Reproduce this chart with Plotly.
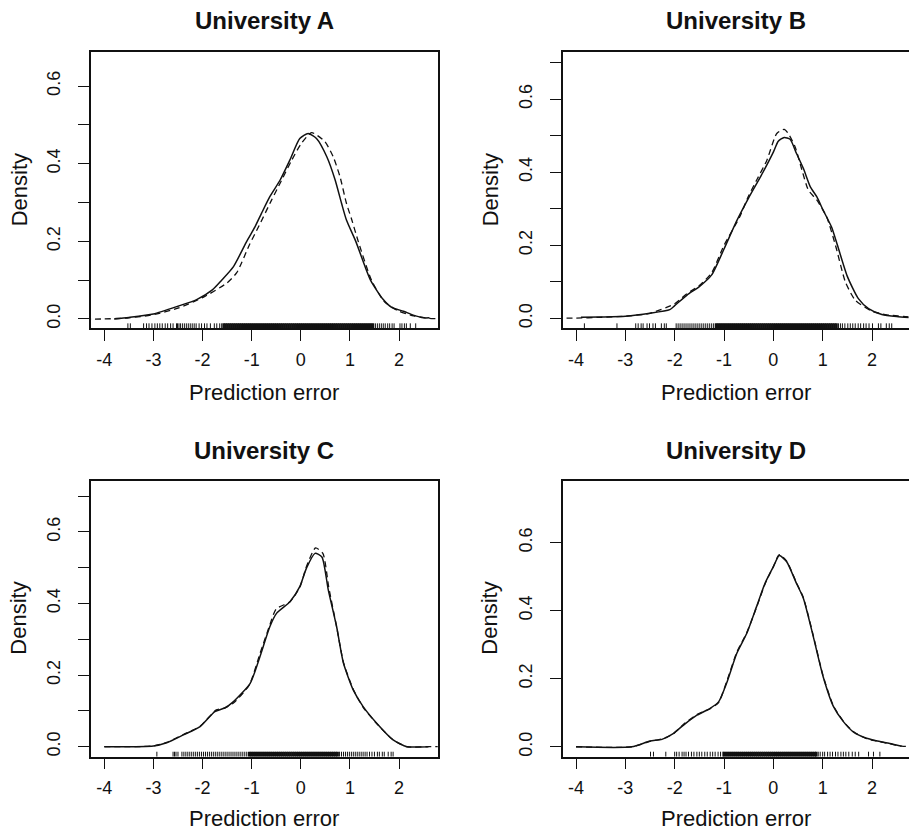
import plotly.graph_objects as go

# ---------------- data ----------------
titles = ["University A", "University B", "University C", "University D"]
x_tick_vals = [-4, -3, -2, -1, 0, 1, 2]
x_tick_text = ["-4", "-3", "-2", "-1", "0", "1", "2"]

y_ticks_A = [0.0, 0.1, 0.2, 0.3, 0.4, 0.5, 0.6]
y_text_A = ["0.0", "", "0.2", "", "0.4", "", "0.6"]
y_ticks_B = [0.0, 0.1, 0.2, 0.3, 0.4, 0.5, 0.6, 0.7]
y_text_B = ["0.0", "", "0.2", "", "0.4", "", "0.6", ""]
y_ticks_C = [0.0, 0.1, 0.2, 0.3, 0.4, 0.5, 0.6, 0.7]
y_text_C = ["0.0", "", "0.2", "", "0.4", "", "0.6", ""]
y_ticks_D = [0.0, 0.2, 0.4, 0.6]
y_text_D = ["0.0", "0.2", "0.4", "0.6"]

# University A
solid_x_A = [-3.8, -3.5, -3.0, -2.5, -2.12, -1.8, -1.61, -1.37, -1.1, -0.93, -0.8, -0.63, -0.42, -0.22,
             -0.02, 0.15, 0.32, 0.53, 0.7, 0.83, 0.93, 1.12, 1.42, 1.68, 1.85, 2.09, 2.29, 2.5, 2.62]
solid_y_A = [0.0, 0.004, 0.013, 0.033, 0.05, 0.075, 0.1, 0.135, 0.2, 0.238, 0.272, 0.315, 0.358, 0.41,
             0.465, 0.478, 0.465, 0.418, 0.358, 0.298, 0.255, 0.2, 0.1, 0.05, 0.03, 0.02, 0.01, 0.003, 0.003]
dash_x_A = [-4.6, -4.0, -3.5, -3.0, -2.5, -2.0, -1.5, -1.3, -1.05, -0.85, -0.6, -0.4, -0.18, 0.0, 0.22,
            0.49, 0.66, 0.80, 0.93, 1.04, 1.17, 1.44, 1.7, 2.0, 2.3, 2.6, 3.0]
dash_y_A = [0.0, 0.0, 0.003, 0.011, 0.028, 0.055, 0.093, 0.12, 0.19, 0.24, 0.305, 0.355, 0.41, 0.45, 0.48,
            0.457, 0.418, 0.366, 0.298, 0.255, 0.2, 0.1, 0.045, 0.02, 0.008, 0.002, 0.0]
rug_sparse_A = [-3.52, -3.47, -3.20, -3.14, -3.09, -3.03, -2.97, -2.92, -2.87, -2.82, -2.76, -2.71, -2.65,
                -2.60, -2.53, -2.51, -2.48, -2.45, -2.41, -2.37, -2.33, -2.29, -2.25, -2.21, -2.17, -2.13,
                -2.07, -2.02, -1.96, -1.91, -1.84, -1.76, -1.71, -1.65, -1.61,
                1.52, 1.56, 1.60, 1.64, 1.68, 1.72, 1.77, 1.81, 1.86, 1.90, 2.02, 2.06, 2.11, 2.15, 2.23, 2.34]
rug_dense_A = [-1.57, -1.53, -1.49, -1.45, -1.41, -1.37, -1.33, -1.29, -1.25, -1.21, -1.17, -1.13, -1.09,
               -1.05, -1.01, -0.97, -0.93, -0.89, -0.85, -0.81, -0.77, -0.73, -0.69, -0.65, -0.61, -0.57,
               -0.53, -0.49, -0.45, -0.41, -0.37, -0.33, -0.29, -0.25, -0.21, -0.17, -0.13, -0.09, -0.05,
               -0.01, 0.03, 0.07, 0.11, 0.15, 0.19, 0.23, 0.27, 0.31, 0.35, 0.39, 0.43, 0.47, 0.51, 0.55,
               0.59, 0.63, 0.67, 0.71, 0.75, 0.79, 0.83, 0.87, 0.91, 0.95, 0.99, 1.03, 1.07, 1.11, 1.15,
               1.19, 1.23, 1.27, 1.31, 1.35, 1.39, 1.43, 1.47]

# University B
solid_x_B = [-3.9, -3.5, -3.0, -2.5, -2.1, -2.0, -1.75, -1.5, -1.25, -1.0, -0.75, -0.5, -0.25, 0.0, 0.1,
             0.22, 0.34, 0.47, 0.61, 0.75, 0.88, 1.01, 1.18, 1.3, 1.5, 1.72, 1.93, 2.2, 2.5, 2.8]
solid_y_B = [0.003, 0.004, 0.006, 0.014, 0.024, 0.035, 0.064, 0.087, 0.119, 0.19, 0.265, 0.33, 0.39, 0.455,
             0.485, 0.495, 0.49, 0.451, 0.41, 0.36, 0.333, 0.296, 0.25, 0.2, 0.115, 0.055, 0.027, 0.011,
             0.005, 0.002]
dash_x_B = [-4.6, -4.0, -3.5, -3.0, -2.5, -2.0, -1.75, -1.5, -1.25, -1.0, -0.68, -0.51, -0.34, -0.13, 0.07,
            0.22, 0.30, 0.44, 0.58, 0.71, 0.88, 1.08, 1.26, 1.46, 1.66, 2.0, 2.3, 2.75, 3.0]
dash_y_B = [0.0, 0.001, 0.003, 0.006, 0.014, 0.04, 0.068, 0.09, 0.125, 0.2, 0.278, 0.333, 0.378, 0.433,
            0.506, 0.517, 0.506, 0.47, 0.406, 0.351, 0.324, 0.278, 0.2, 0.1, 0.05, 0.02, 0.01, 0.004, 0.0]
rug_sparse_B = [-3.83, -3.17, -2.79, -2.74, -2.68, -2.64, -2.56, -2.51, -2.44, -2.39, -2.27, -2.21, -2.17,
                -1.97, -1.93, -1.89, -1.85, -1.81, -1.77, -1.73, -1.69, -1.65, -1.61, -1.57, -1.53, -1.49,
                -1.45, -1.41, -1.37, -1.33, -1.29, -1.25, -1.21,
                1.32, 1.36, 1.40, 1.45, 1.51, 1.56, 1.61, 1.66, 1.72, 1.77, 1.83, 1.88, 1.94, 2.01, 2.13,
                2.18, 2.29, 2.35, 2.40]
rug_dense_B = [-1.16, -1.12, -1.08, -1.04, -1.00, -0.96, -0.92, -0.88, -0.84, -0.80, -0.76, -0.72, -0.68,
               -0.64, -0.60, -0.56, -0.52, -0.48, -0.44, -0.40, -0.36, -0.32, -0.28, -0.24, -0.20, -0.16,
               -0.12, -0.08, -0.04, 0.00, 0.04, 0.08, 0.12, 0.16, 0.20, 0.24, 0.28, 0.32, 0.36, 0.40, 0.44,
               0.48, 0.52, 0.56, 0.60, 0.64, 0.68, 0.72, 0.76, 0.80, 0.84, 0.88, 0.92, 0.96, 1.00, 1.04,
               1.08, 1.12, 1.16, 1.20, 1.24, 1.28]

# University C
solid_x_C = [-4.0, -3.0, -2.73, -2.39, -2.05, -1.75, -1.55, -1.37, -1.03, -0.83, -0.63, -0.49, -0.22,
             -0.02, 0.12, 0.29, 0.43, 0.56, 0.73, 0.87, 1.07, 1.27, 1.55, 1.88, 2.16, 2.6]
solid_y_C = [0.0, 0.002, 0.011, 0.033, 0.056, 0.098, 0.108, 0.126, 0.177, 0.252, 0.335, 0.373, 0.405,
             0.447, 0.5, 0.54, 0.53, 0.438, 0.335, 0.233, 0.158, 0.112, 0.065, 0.019, 0.0, 0.0]
dash_x_C = [-4.0, -3.0, -2.73, -2.39, -2.05, -1.72, -1.55, -1.37, -1.05, -0.83, -0.63, -0.5, -0.22,
            -0.02, 0.12, 0.3, 0.45, 0.57, 0.73, 0.87, 1.07, 1.27, 1.55, 1.88, 2.16, 2.6, 3.0]
dash_y_C = [0.0, 0.002, 0.012, 0.034, 0.057, 0.103, 0.108, 0.122, 0.172, 0.26, 0.34, 0.385, 0.405,
            0.445, 0.505, 0.555, 0.54, 0.445, 0.335, 0.235, 0.16, 0.11, 0.064, 0.019, 0.0, 0.0, 0.0]
rug_sparse_C = [-2.93, -2.60, -2.57, -2.54, -2.50, -2.42, -2.38, -2.34, -2.30, -2.26, -2.22, -2.18, -2.14,
                -2.10, -2.06, -2.02, -1.98, -1.94, -1.90, -1.86, -1.82, -1.78, -1.74, -1.70, -1.66, -1.62,
                -1.58, -1.54, -1.50, -1.46, -1.42, -1.38, -1.34, -1.30, -1.26, -1.22, -1.18, -1.14, -1.10,
                0.79, 0.83, 0.87, 0.91, 0.95, 0.99, 1.03, 1.07, 1.11, 1.15, 1.19, 1.23, 1.27, 1.31, 1.35,
                1.40, 1.45, 1.50, 1.56, 1.60, 1.66, 1.70, 1.78, 1.84, 1.88]
rug_dense_C = [-1.05, -1.01, -0.97, -0.93, -0.89, -0.85, -0.81, -0.77, -0.73, -0.69, -0.65, -0.61, -0.57,
               -0.53, -0.49, -0.45, -0.41, -0.37, -0.33, -0.29, -0.25, -0.21, -0.17, -0.13, -0.09, -0.05,
               -0.01, 0.03, 0.07, 0.11, 0.15, 0.19, 0.23, 0.27, 0.31, 0.35, 0.39, 0.43, 0.47, 0.51, 0.55,
               0.59, 0.63, 0.67, 0.71, 0.75]

# University D
solid_x_D = [-4.0, -2.87, -2.5, -2.26, -2.03, -1.82, -1.55, -1.28, -1.11, -0.95, -0.74, -0.54, -0.34,
             -0.17, 0.0, 0.12, 0.27, 0.47, 0.61, 0.81, 1.01, 1.22, 1.42, 1.62, 1.89, 2.09, 2.36, 2.6]
solid_y_D = [0.0, 0.0, 0.017, 0.022, 0.039, 0.064, 0.093, 0.113, 0.132, 0.186, 0.275, 0.333, 0.412, 0.48,
             0.529, 0.562, 0.544, 0.48, 0.436, 0.324, 0.206, 0.118, 0.074, 0.044, 0.025, 0.018, 0.01, 0.002]
dash_x_D = [-4.0, -2.87, -2.5, -2.26, -2.03, -1.82, -1.55, -1.28, -1.11, -0.95, -0.74, -0.54, -0.34,
            -0.17, 0.0, 0.12, 0.27, 0.47, 0.61, 0.81, 1.01, 1.22, 1.42, 1.62, 1.89, 2.09, 2.36, 2.6, 3.0]
dash_y_D = [0.0, 0.0, 0.016, 0.023, 0.038, 0.066, 0.095, 0.112, 0.13, 0.19, 0.278, 0.335, 0.41, 0.478,
            0.53, 0.565, 0.546, 0.482, 0.438, 0.327, 0.208, 0.12, 0.075, 0.045, 0.024, 0.017, 0.009,
            0.002, 0.0]
rug_sparse_D = [-2.49, -2.43, -2.18, -2.00, -1.96, -1.91, -1.85, -1.81, -1.77, -1.72, -1.66, -1.61, -1.55,
                -1.50, -1.45, -1.39, -1.34, -1.28, -1.23, -1.18, -1.12, -1.07, -1.02,
                0.91, 0.95, 1.00, 1.04, 1.10, 1.15, 1.20, 1.26, 1.31, 1.37, 1.42, 1.47, 1.53, 1.60, 1.66,
                1.73, 1.93, 2.03, 2.16]
rug_dense_D = [-1.00, -0.96, -0.92, -0.88, -0.84, -0.80, -0.76, -0.72, -0.68, -0.64, -0.60, -0.56, -0.52,
               -0.48, -0.44, -0.40, -0.36, -0.32, -0.28, -0.24, -0.20, -0.16, -0.12, -0.08, -0.04, 0.00,
               0.04, 0.08, 0.12, 0.16, 0.20, 0.24, 0.28, 0.32, 0.36, 0.40, 0.44, 0.48, 0.52, 0.56, 0.60,
               0.64, 0.68, 0.72, 0.76, 0.80, 0.84, 0.87]

# ---------------- layout ----------------
W, H = 909, 832
FONT = "Liberation Sans, Arial, Helvetica, sans-serif"
INK = "#111111"

panels = [
    dict(title=titles[0], sx=solid_x_A, sy=solid_y_A, dx=dash_x_A, dy=dash_y_A, rs=rug_sparse_A,
         rd=rug_dense_A, yt=y_ticks_A, ytt=y_text_A,
         box=(90.7, 437.7, 52.3, 328.3), xr=[-4.277, 2.788], yr=[-0.024, 0.687]),
    dict(title=titles[1], sx=solid_x_B, sy=solid_y_B, dx=dash_x_B, dy=dash_y_B, rs=rug_sparse_B,
         rd=rug_dense_B, yt=y_ticks_B, ytt=y_text_B,
         box=(562.7, 908.5, 52.3, 328.3), xr=[-4.27, 2.74], yr=[-0.027, 0.728]),
    dict(title=titles[2], sx=solid_x_C, sy=solid_y_C, dx=dash_x_C, dy=dash_y_C, rs=rug_sparse_C,
         rd=rug_dense_C, yt=y_ticks_C, ytt=y_text_C,
         box=(90.7, 437.7, 480.7, 756.7), xr=[-4.277, 2.788], yr=[-0.028, 0.743]),
    dict(title=titles[3], sx=solid_x_D, sy=solid_y_D, dx=dash_x_D, dy=dash_y_D, rs=rug_sparse_D,
         rd=rug_dense_D, yt=y_ticks_D, ytt=y_text_D,
         box=(562.7, 908.5, 480.7, 756.7), xr=[-4.27, 2.74], yr=[-0.029, 0.782]),
]

fig = go.Figure()
annotations = []
layout_axes = {}


def rug_xy(vals, y0, y1):
    xs, ys = [], []
    for v in vals:
        xs += [v, v, None]
        ys += [y0, y1, None]
    return xs, ys


for i, p in enumerate(panels):
    n = i + 1
    xa = "x" if n == 1 else f"x{n}"
    ya = "y" if n == 1 else f"y{n}"
    left, right, top, bottom = p["box"]
    xdom = [left / W, right / W]
    ydom = [1 - bottom / H, 1 - top / H]

    # density curves
    fig.add_trace(go.Scatter(x=p["dx"], y=p["dy"], mode="lines", xaxis=xa, yaxis=ya,
                             line=dict(color=INK, width=1.3, dash="6px,4px", shape="spline",
                                       smoothing=0.6),
                             showlegend=False, hoverinfo="skip"))
    fig.add_trace(go.Scatter(x=p["sx"], y=p["sy"], mode="lines", xaxis=xa, yaxis=ya,
                             line=dict(color=INK, width=1.5, shape="spline", smoothing=0.6),
                             showlegend=False, hoverinfo="skip"))
    # rug
    y0 = p["yr"][0]
    h = (p["yr"][1] - p["yr"][0]) * 0.018
    rx, ry = rug_xy(p["rs"], y0, y0 + h)
    fig.add_trace(go.Scatter(x=rx, y=ry, mode="lines", xaxis=xa, yaxis=ya,
                             line=dict(color=INK, width=1), showlegend=False, hoverinfo="skip"))
    rx, ry = rug_xy(p["rd"], y0, y0 + h)
    fig.add_trace(go.Scatter(x=rx, y=ry, mode="lines", xaxis=xa, yaxis=ya,
                             line=dict(color=INK, width=2.6), showlegend=False, hoverinfo="skip"))

    axis_common = dict(showline=True, mirror=True, linecolor=INK, linewidth=1.5, showgrid=False,
                       zeroline=False, ticks="outside", ticklen=11, tickwidth=1.3, tickcolor=INK,
                       tickfont=dict(family=FONT, size=18, color=INK))
    layout_axes["xaxis" if n == 1 else f"xaxis{n}"] = dict(
        axis_common, domain=xdom, range=p["xr"], anchor=ya, tickmode="array",
        tickvals=x_tick_vals, ticktext=x_tick_text, ticklabelstandoff=3)
    layout_axes["yaxis" if n == 1 else f"yaxis{n}"] = dict(
        axis_common, domain=ydom, range=p["yr"], anchor=xa, tickmode="array",
        tickvals=p["yt"], ticktext=p["ytt"], tickangle=-90, ticklabelstandoff=11)

    cx = (xdom[0] + xdom[1]) / 2
    cy = (ydom[0] + ydom[1]) / 2
    title_y = 21 if i < 2 else 450
    xlab_y = 392 if i < 2 else 818
    ylab_x = 19 if i % 2 == 0 else 490
    annotations.append(dict(text=f"<b>{p['title']}</b>", x=cx, y=1 - title_y / H, xref="paper",
                            yref="paper", showarrow=False, xanchor="center", yanchor="middle",
                            font=dict(family=FONT, size=24, color=INK)))
    annotations.append(dict(text="Prediction error", x=cx, y=1 - xlab_y / H, xref="paper",
                            yref="paper", showarrow=False, xanchor="center", yanchor="middle",
                            font=dict(family=FONT, size=22, color=INK)))
    annotations.append(dict(text="Density", x=ylab_x / W, y=cy, xref="paper", yref="paper",
                            showarrow=False, xanchor="center", yanchor="middle", textangle=-90,
                            font=dict(family=FONT, size=22, color=INK)))

fig.update_layout(width=W, height=H, margin=dict(l=0, r=0, t=0, b=0),
                  paper_bgcolor="white", plot_bgcolor="white", annotations=annotations,
                  font=dict(family=FONT, color=INK), **layout_axes)

fig.write_html("out.html", config={"displayModeBar": False},
               post_script="document.body.style.margin='0';document.body.style.overflow='hidden';")
